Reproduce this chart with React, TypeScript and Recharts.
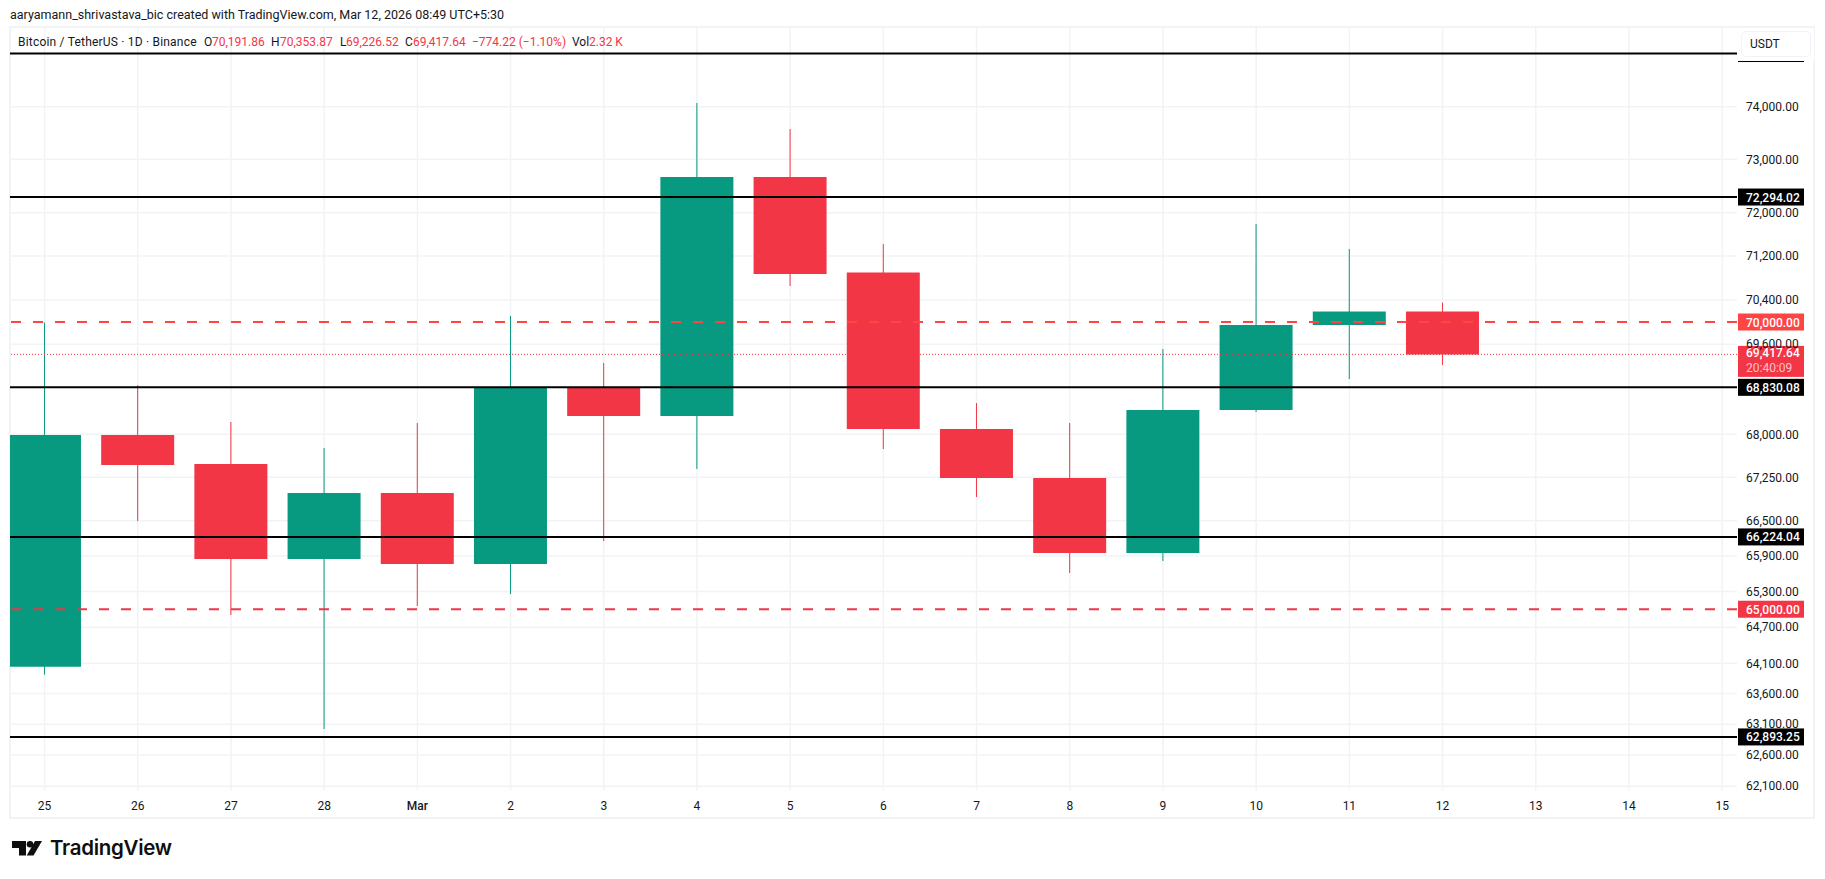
import React from 'react'
import {
  ComposedChart,
  Bar,
  Cell,
  XAxis,
  YAxis,
  CartesianGrid,
  ReferenceLine,
} from 'recharts'

const dayLabels = ['25', '26', '27', '28', 'Mar', '2', '3', '4', '5', '6', '7', '8', '9', '10', '11', '12', '13', '14', '15']
const opens = [64044, 67989, 67480, 65848, 66978, 65763, 68827, 68323, 72668, 70900, 68094, 67238, 65950, 68429, 69946, 70191.86]
const highs = [69990, 68866, 68217, 67761, 68199, 70109, 69263, 74069, 73574, 71422, 68552, 68199, 69513, 71792, 71330, 70353.87]
const lows = [63910, 66496, 64904, 63022, 65053, 65256, 66154, 67394, 70653, 67743, 66909, 65611, 65813, 68393, 68978, 69226.52]
const closes = [67989, 67464, 65848, 66978, 65763, 68827, 68323, 72668, 70872, 68094, 67238, 65950, 68429, 69946, 70191.86, 69417.64]

const priceTicks = [74000, 73000, 72000, 71200, 70400, 69600, 68000, 67250, 66500, 65900, 65300, 64700, 64100, 63600, 63100, 62600, 62100]
const blackLevels = [72294.02, 68830.08, 66224.04, 62893.25]
const topLevel = 75021
const dashedLevels = [70000, 65000]
const dashedColors = ['#ff4444', '#f23645']
const lastPrice = 69417.64
const countdown = '20:40:09'

const UP = '#089981'
const DOWN = '#f23645'
const INK = '#131722'
const FONT = 'Roboto, sans-serif'

const candles = opens.map((open, i) => ({
  index: i,
  open,
  high: highs[i],
  low: lows[i],
  close: closes[i],
}))

const dayIndexes = dayLabels.map((_, i) => i)
const xDomain = [-0.371, 18.159]
const yDomain = [62038, 75536]

const fmt = (v: number) =>
  v.toLocaleString('en-US', { minimumFractionDigits: 2, maximumFractionDigits: 2 })

// price tag on the axis, hung off the reference line label
const tag = (text: string, fill: string) => (props: any) => {
  const { viewBox } = props
  const x = viewBox.x + viewBox.width + 1
  return (
    <g>
      <rect x={x} y={viewBox.y - 8.5} width={66} height={17} fill={fill} />
      {text && (
        <text x={x + 8} y={viewBox.y + 4.5} fill="#fff" fontSize={12} fontFamily={FONT} fontWeight={500}>
          {text}
        </text>
      )}
    </g>
  )
}

const lastTag = (props: any) => {
  const { viewBox } = props
  const x = viewBox.x + viewBox.width + 1
  return (
    <g>
      <rect x={x} y={viewBox.y - 8.5} width={66} height={31} fill={DOWN} />
      <text x={x + 8} y={viewBox.y + 3} fill="#fff" fontSize={12} fontFamily={FONT} fontWeight={500}>
        {fmt(lastPrice)}
      </text>
      <text x={x + 8} y={viewBox.y + 18} fill="#fff" fillOpacity={0.7} fontSize={12} fontFamily={FONT}>
        {countdown}
      </text>
    </g>
  )
}

const DayTick = (props: any) => {
  const { x, y, payload } = props
  const label = dayLabels[payload.value]
  return (
    <text
      x={x}
      y={y + 12}
      textAnchor="middle"
      fill={INK}
      fontSize={12}
      fontFamily={FONT}
      fontWeight={label === 'Mar' ? 500 : 400}
    >
      {label}
    </text>
  )
}

const Seg = ({ left, color = INK, spacing = 0, children }: any) => (
  <span style={{ position: 'absolute', left, top: 33, fontSize: 12, lineHeight: '18px', color, letterSpacing: spacing, whiteSpace: 'nowrap' }}>
    {children}
  </span>
)

export default function App() {
  return (
    <div style={{ position: 'absolute', left: 0, top: 0, width: 1825, height: 879, background: '#fff', fontFamily: FONT, overflow: 'hidden' }}>
      <div style={{ position: 'absolute', left: 9, top: 26, width: 1802, height: 789, border: '2px solid #f2f3f5' }} />

      <div style={{ position: 'absolute', left: 0, top: 0 }}>
        <ComposedChart
          width={1825}
          height={879}
          data={candles}
          margin={{ top: 27, right: 10, bottom: 60, left: 10 }}
        >
          <CartesianGrid xAxisId="main" stroke="#f2f3f5" strokeWidth={1.5} syncWithTicks />
          <XAxis
            xAxisId="main"
            type="number"
            dataKey="index"
            domain={xDomain}
            ticks={dayIndexes}
            interval={0}
            allowDataOverflow
            height={29}
            tickLine={false}
            axisLine={false}
            tick={<DayTick />}
          />
          <XAxis
            xAxisId="wick"
            type="number"
            dataKey="index"
            domain={xDomain}
            ticks={dayIndexes}
            allowDataOverflow
            hide
          />
          <YAxis
            orientation="right"
            scale="log"
            domain={yDomain}
            ticks={priceTicks}
            interval={0}
            allowDataOverflow
            width={78}
            tickLine={false}
            axisLine={false}
            tickMargin={3}
            tickFormatter={fmt}
            tick={{ fill: INK, fontSize: 12, fontFamily: FONT }}
          />
          <Bar
            xAxisId="wick"
            dataKey={(d: any) => [d.low, d.high]}
            barSize={1}
            isAnimationActive={false}
          >
            {candles.map((c) => (
              <Cell key={c.index} fill={c.close >= c.open ? UP : DOWN} />
            ))}
          </Bar>
          <Bar
            xAxisId="main"
            dataKey={(d: any) => [Math.min(d.open, d.close), Math.max(d.open, d.close)]}
            barSize={73}
            isAnimationActive={false}
          >
            {candles.map((c) => (
              <Cell key={c.index} fill={c.close >= c.open ? UP : DOWN} />
            ))}
          </Bar>
          <ReferenceLine
            xAxisId="main"
            y={lastPrice}
            stroke={DOWN}
            strokeDasharray="1 2"
            label={lastTag}
          />
          {dashedLevels.map((level, i) => (
            <ReferenceLine
              key={level}
              xAxisId="main"
              y={level}
              stroke={dashedColors[i]}
              strokeWidth={2}
              strokeDasharray="10 12"
              label={tag(fmt(level), dashedColors[i])}
            />
          ))}
          <ReferenceLine xAxisId="main" y={topLevel} stroke="#000" strokeWidth={2} label={tag('', '#000')} />
          {blackLevels.map((level) => (
            <ReferenceLine
              key={level}
              xAxisId="main"
              y={level}
              stroke="#000"
              strokeWidth={2}
              label={tag(fmt(level), '#000')}
            />
          ))}
        </ComposedChart>
      </div>

      <div style={{ position: 'absolute', left: 10, top: 6, fontSize: 12.5, lineHeight: '18px', color: INK, whiteSpace: 'nowrap' }}>
        aaryamann_shrivastava_bic created with TradingView.com, Mar 12, 2026 08:49 UTC+5:30
      </div>

      <Seg left={18} spacing={0.2}>Bitcoin / TetherUS · 1D · Binance</Seg>
      <Seg left={204}>O</Seg>
      <Seg left={212} color={DOWN}>70,191.86</Seg>
      <Seg left={271}>H</Seg>
      <Seg left={280} color={DOWN}>70,353.87</Seg>
      <Seg left={340}>L</Seg>
      <Seg left={346} color={DOWN}>69,226.52</Seg>
      <Seg left={405}>C</Seg>
      <Seg left={413} color={DOWN}>69,417.64</Seg>
      <Seg left={472} color={DOWN}>−774.22 (−1.10%)</Seg>
      <Seg left={572}>Vol</Seg>
      <Seg left={589} color={DOWN}>2.32 K</Seg>

      {/* the top level's tag sits behind the currency button, only its lower edge shows */}
      <div style={{ position: 'absolute', left: 1738, top: 28, width: 76, height: 33, background: '#fff' }} />
      <div style={{ position: 'absolute', left: 1741, top: 31, width: 60, height: 24, border: '1.5px solid #f0f3fa', borderRadius: 5, background: '#fff', fontSize: 12, lineHeight: '24px', color: INK, paddingLeft: 8 }}>
        <span>USDT</span>
      </div>

      <svg style={{ position: 'absolute', left: 12, top: 841 }} width={32} height={16} viewBox="0 0 32 16">
        <path d="M0 0H14V14.5H7V7H0Z" fill="#0f0f0f" />
        <circle cx={18} cy={3.3} r={3.3} fill="#0f0f0f" />
        <path d="M23 0H30L21.5 14.5H14.7Z" fill="#0f0f0f" />
      </svg>
      <div style={{ position: 'absolute', left: 50, top: 833, fontFamily: 'Inter, sans-serif', fontSize: 20.5, fontWeight: 600, lineHeight: '30px', color: '#0f0f0f', letterSpacing: -0.3 }}>
        TradingView
      </div>
    </div>
  )
}
